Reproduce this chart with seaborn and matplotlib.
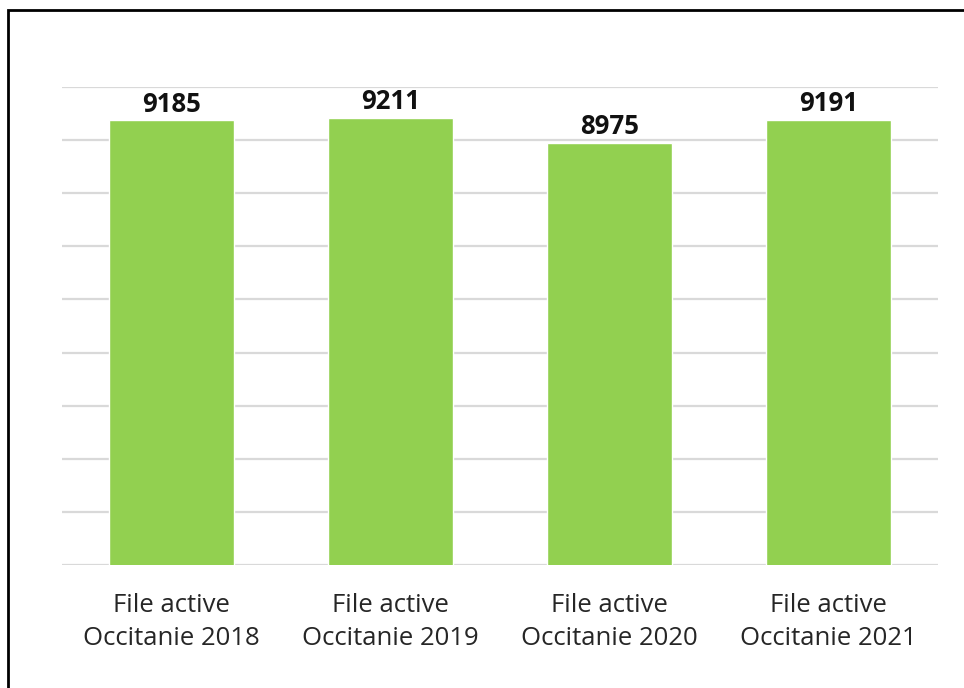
import matplotlib
matplotlib.use("Agg")
import matplotlib.pyplot as plt
import matplotlib.patches as mpatches
import seaborn as sns
import pandas as pd

# données
categories = ["File active\nOccitanie 2018", "File active\nOccitanie 2019",
              "File active\nOccitanie 2020", "File active\nOccitanie 2021"]
valeurs = [9185, 9211, 8975, 9191]

df = pd.DataFrame({"cat": categories, "val": valeurs})

sns.set_style("white")
plt.rcParams['font.family'] = ['Open Sans', 'DejaVu Sans']

fig = plt.figure(figsize=(9.64, 6.88), dpi=100)
ax = fig.add_axes([0.0643, 0.1788, 0.9087, 0.6947])

sns.barplot(data=df, x="cat", y="val", color="#92D050", saturation=1, width=0.57, ax=ax)

ax.set_ylim(5000, 9500)
ax.set_yticks(range(5000, 9501, 500))
ax.yaxis.grid(True, color="#D9D9D9", linewidth=1.6)
ax.set_axisbelow(True)
ax.set_yticklabels([])
ax.tick_params(axis="y", length=0)
ax.tick_params(axis="x", length=0, pad=20, labelsize=18.5, labelcolor="#262626")
for t in ax.get_xticklabels():
    t.set_linespacing(1.45)
ax.set_xlabel("")
ax.set_ylabel("")
for s in ax.spines.values():
    s.set_visible(False)

for c in ax.containers:
    ax.bar_label(c, fmt="%d", padding=2, fontsize=18.5, fontweight="bold", color="#111111")

# cadre
fig.patches.append(mpatches.Rectangle((8 / 964, -0.1), 1.2, 1 - 10 / 688 + 0.1,
                                      transform=fig.transFigure, fill=False,
                                      edgecolor="black", linewidth=2))

fig.savefig("out.png", dpi=100)
